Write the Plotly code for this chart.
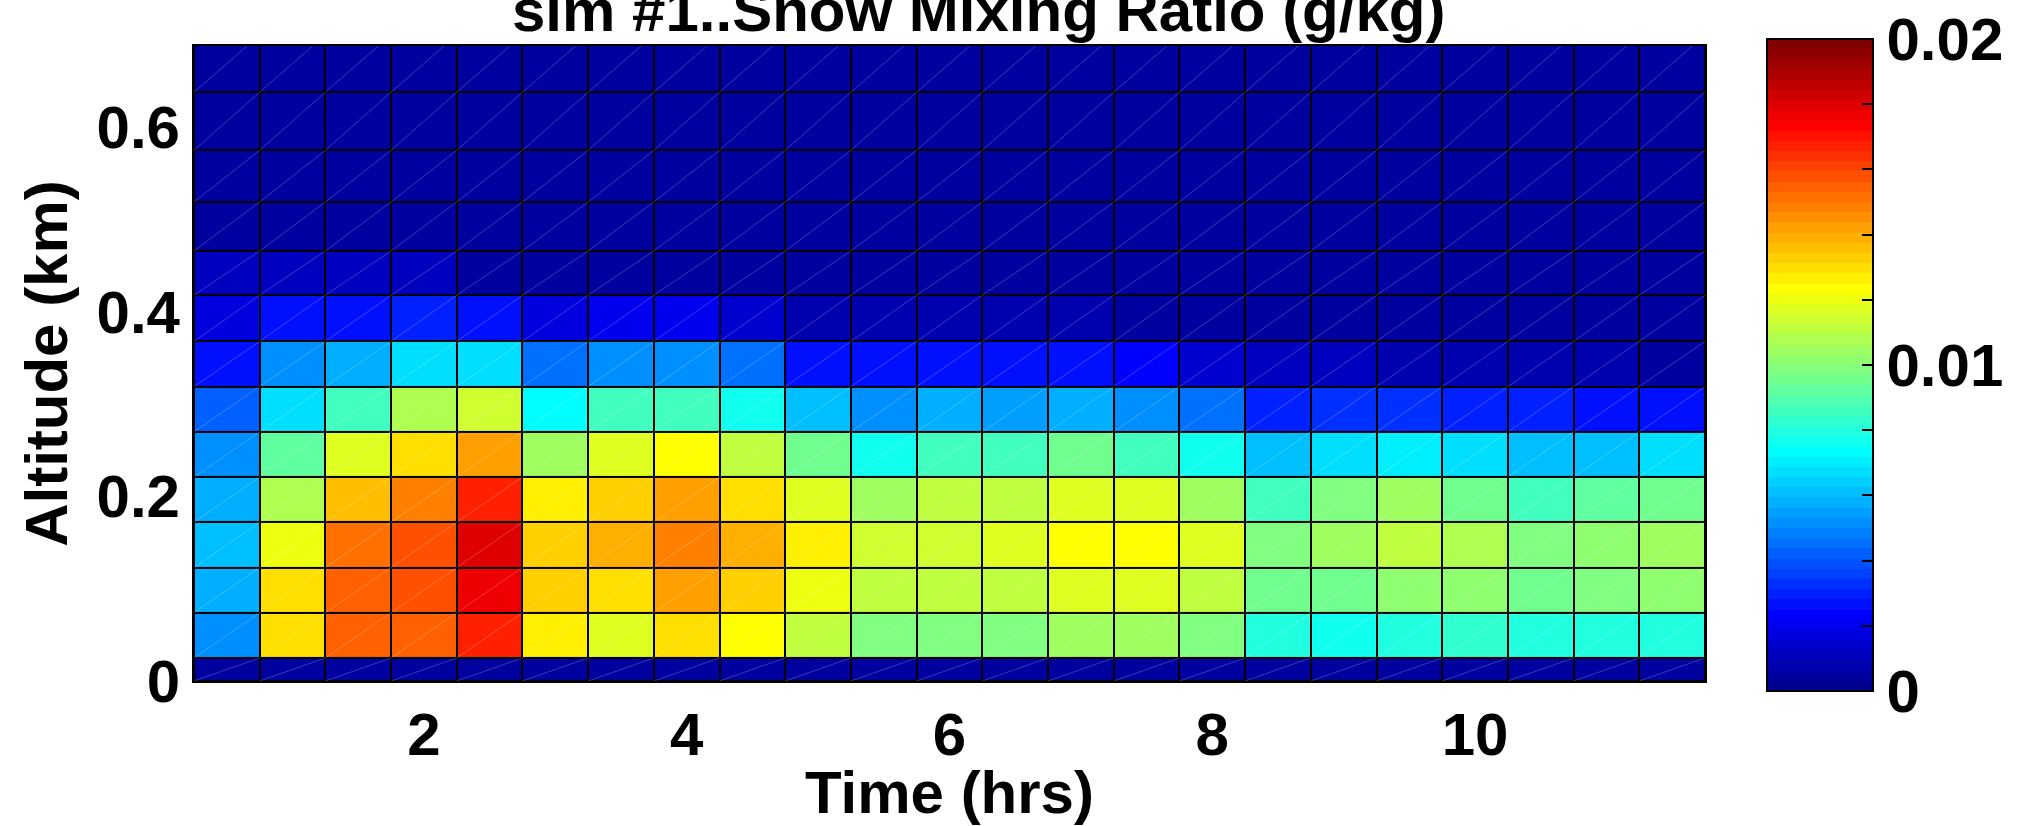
import numpy as np
import plotly.graph_objects as go

# ---------------- data ----------------
title_text = "sim #1..Snow Mixing Ratio (g/kg)"
time_edges = [0.25, 0.75, 1.25, 1.75, 2.25, 2.75, 3.25, 3.75, 4.25, 4.75, 5.25, 5.75,
              6.25, 6.75, 7.25, 7.75, 8.25, 8.75, 9.25, 9.75, 10.25, 10.75, 11.25, 11.75]
alt_edges = [0.0, 0.025, 0.074, 0.123, 0.172, 0.221, 0.270, 0.319, 0.368, 0.418,
             0.466, 0.519, 0.575, 0.638, 0.700]
x_ticks = [2, 4, 6, 8, 10]
y_ticks = [0, 0.2, 0.4, 0.6]
y_ticklabels = ["0", "0.2", "0.4", "0.6"]
cbar_ticks = [0, 0.002, 0.004, 0.006, 0.008, 0.01, 0.012, 0.014, 0.016, 0.018, 0.019999]
cbar_labels = ["0", "", "", "", "", "0.01", "", "", "", "", "0.02"]

# snow mixing ratio (g/kg), rows from the lowest level upward, 23 time columns
row0 = [0.0004] * 23
row1 = [0.0051, 0.0131, 0.0156, 0.0156, 0.0166, 0.0127, 0.0118, 0.0130, 0.0123, 0.0111, 0.0098, 0.0098,
        0.0098, 0.0105, 0.0105, 0.0098, 0.0080, 0.0077, 0.0081, 0.0084, 0.0079, 0.0081, 0.0081]
row2 = [0.0058, 0.0130, 0.0156, 0.0159, 0.0175, 0.0134, 0.0130, 0.0142, 0.0134, 0.0120, 0.0111, 0.0111,
        0.0111, 0.0118, 0.0118, 0.0111, 0.0094, 0.0094, 0.0102, 0.0102, 0.0094, 0.0098, 0.0102]
row3 = [0.0061, 0.0120, 0.0150, 0.0159, 0.0180, 0.0134, 0.0138, 0.0147, 0.0138, 0.0128, 0.0114, 0.0114,
        0.0116, 0.0123, 0.0123, 0.0117, 0.0098, 0.0105, 0.0110, 0.0108, 0.0098, 0.0102, 0.0105]
row4 = [0.0058, 0.0108, 0.0136, 0.0147, 0.0166, 0.0127, 0.0134, 0.0142, 0.0131, 0.0118, 0.0105, 0.0111,
        0.0111, 0.0118, 0.0116, 0.0105, 0.0086, 0.0098, 0.0105, 0.0094, 0.0086, 0.0091, 0.0094]
row5 = [0.0052, 0.0091, 0.0118, 0.0131, 0.0143, 0.0105, 0.0118, 0.0123, 0.0112, 0.0094, 0.0078, 0.0086,
        0.0086, 0.0094, 0.0086, 0.0077, 0.0062, 0.0068, 0.0071, 0.0066, 0.0061, 0.0062, 0.0066]
row6 = [0.0042, 0.0067, 0.0086, 0.0108, 0.0113, 0.0074, 0.0086, 0.0086, 0.0075, 0.0061, 0.0053, 0.0058,
        0.0056, 0.0058, 0.0053, 0.0044, 0.0031, 0.0033, 0.0033, 0.0031, 0.0030, 0.0028, 0.0028]
row7 = [0.0028, 0.0050, 0.0058, 0.0066, 0.0066, 0.0045, 0.0050, 0.0053, 0.0044, 0.0027, 0.0027, 0.0027,
        0.0027, 0.0027, 0.0022, 0.0015, 0.0011, 0.0010, 0.0008, 0.0007, 0.0008, 0.0007, 0.0005]
row8 = [0.0017, 0.0028, 0.0028, 0.0031, 0.0028, 0.0017, 0.0020, 0.0019, 0.0014, 0.0008, 0.0007, 0.0007,
        0.0007, 0.0007, 0.0005, 0.0004, 0.0005, 0.0005, 0.0005, 0.0005, 0.0005, 0.0005, 0.0005]
row9 = [0.0010, 0.0010, 0.0010, 0.0010, 0.0006, 0.0006, 0.0006, 0.0006, 0.0006, 0.0004, 0.0004, 0.0004,
        0.0004, 0.0004, 0.0004, 0.0004, 0.0004, 0.0004, 0.0004, 0.0004, 0.0004, 0.0004, 0.0004]
row10 = [0.0004] * 23
row11 = [0.0004] * 23
row12 = [0.0004] * 23
row13 = [0.0004] * 23
z = [row0, row1, row2, row3, row4, row5, row6, row7, row8, row9, row10, row11, row12, row13]

# ---------------- style ----------------
FONT = "Liberation Sans, Arial, Helvetica, sans-serif"
W, H = 2028, 826
L, R, T, B = 194, 312, 46, 135
ZMIN, ZMAX = 0.0, 0.02


def jet(m=64):
    n = m // 4
    u = [k / n for k in range(1, n + 1)] + [1.0] * (n - 1) + [k / n for k in range(n, 0, -1)]
    g = [m // 8 + k for k in range(1, len(u) + 1)]
    r = [v + n for v in g]
    b = [v - n for v in g]
    g = [v for v in g if v <= m]
    r = [v for v in r if v <= m]
    b = [v for v in b if v >= 1]
    J = [[0.0, 0.0, 0.0] for _ in range(m)]
    for k, i in enumerate(r):
        J[i - 1][0] = u[k]
    for k, i in enumerate(g):
        J[i - 1][1] = u[k]
    off = len(u) - len(b)
    for k, i in enumerate(b):
        J[i - 1][2] = u[off + k]
    return J


cmap = jet(64)
colorscale = []
for i, (rr, gg, bb) in enumerate(cmap):
    c = "rgb(%d,%d,%d)" % (round(rr * 255), round(gg * 255), round(bb * 255))
    colorscale.append([i / 64, c])
    colorscale.append([(i + 1) / 64, c])

plot_w = W - L - R
plot_h = H - T - B
cb_top_px, cb_bot_px = 38, 690          # visible colour-bar extent (pixels)
cb_shift = 6                            # plotly places the bar slightly higher
cb_len = cb_bot_px - cb_top_px
cb_x_px = 1772

fig = go.Figure()
fig.add_trace(go.Heatmap(
    x=time_edges, y=alt_edges, z=z,
    zmin=ZMIN, zmax=ZMAX, colorscale=colorscale,
    xgap=2, ygap=2, hoverinfo="skip",
    colorbar=dict(
        thicknessmode="pixels", thickness=106,
        lenmode="pixels", len=cb_len,
        x=(cb_x_px + 6 - L) / plot_w, xanchor="left", xpad=0,
        y=(H - B - (cb_top_px + cb_bot_px) / 2 - cb_shift) / plot_h, yanchor="middle", ypad=0,
        outlinewidth=2, outlinecolor="black",
        tickmode="array", tickvals=cbar_ticks, ticktext=cbar_labels,
        ticks="inside", ticklen=12, tickwidth=2, tickcolor="black",
        tickfont=dict(family=FONT, size=60, color="black", weight="bold"),
    ),
))

# faint diagonal render lines across every cell
dx, dy = [], []
for j in range(len(alt_edges) - 1):
    for i in range(len(time_edges) - 1):
        dx += [time_edges[i], time_edges[i + 1], None]
        dy += [alt_edges[j], alt_edges[j + 1], None]
fig.add_trace(go.Scatter(x=dx, y=dy, mode="lines", hoverinfo="skip", showlegend=False,
                         line=dict(color="rgba(255,255,255,0.22)", width=1)))

# ticks on the left side of the colour bar
shapes = []
for v in cbar_ticks[1:-1]:
    ypx = cb_bot_px - (v - ZMIN) / (ZMAX - ZMIN) * cb_len
    yp = (H - B - ypx) / plot_h
    x0 = (cb_x_px + 6 - L) / plot_w
    x1 = (cb_x_px + 6 + 12 - L) / plot_w
    shapes.append(dict(type="line", xref="paper", yref="paper", x0=x0, x1=x1, y0=yp, y1=yp,
                       line=dict(color="black", width=2)))

fig.update_layout(
    width=W, height=H,
    margin=dict(l=L, r=R, t=T, b=B),
    paper_bgcolor="white", plot_bgcolor="black",
    font=dict(family=FONT, color="black"),
    showlegend=False,
    shapes=shapes,
    annotations=[dict(text=title_text, xref="paper", yref="paper",
                      x=(984 - L) / plot_w, y=1.0, xanchor="center", yanchor="bottom",
                      yshift=0, showarrow=False,
                      font=dict(family=FONT, size=60, color="black", weight="bold"))],
)
fig.update_xaxes(
    range=[time_edges[0], time_edges[-1]], tickmode="array", tickvals=x_ticks,
    ticks="", showgrid=False, zeroline=False,
    showline=True, mirror=True, linecolor="black", linewidth=2,
    tickfont=dict(family=FONT, size=60, color="black", weight="bold"),
    title=dict(text="Time (hrs)", standoff=4,
               font=dict(family=FONT, size=60, color="black", weight="bold")),
)
fig.update_yaxes(
    range=[0, 0.688], tickmode="array", tickvals=y_ticks, ticktext=y_ticklabels,
    ticks="", showgrid=False, zeroline=False,
    showline=True, mirror=True, linecolor="black", linewidth=2,
    tickfont=dict(family=FONT, size=60, color="black", weight="bold"),
    title=dict(text="Altitude (km)", standoff=10,
               font=dict(family=FONT, size=60, color="black", weight="bold")),
)

fig.write_html("out.html")
